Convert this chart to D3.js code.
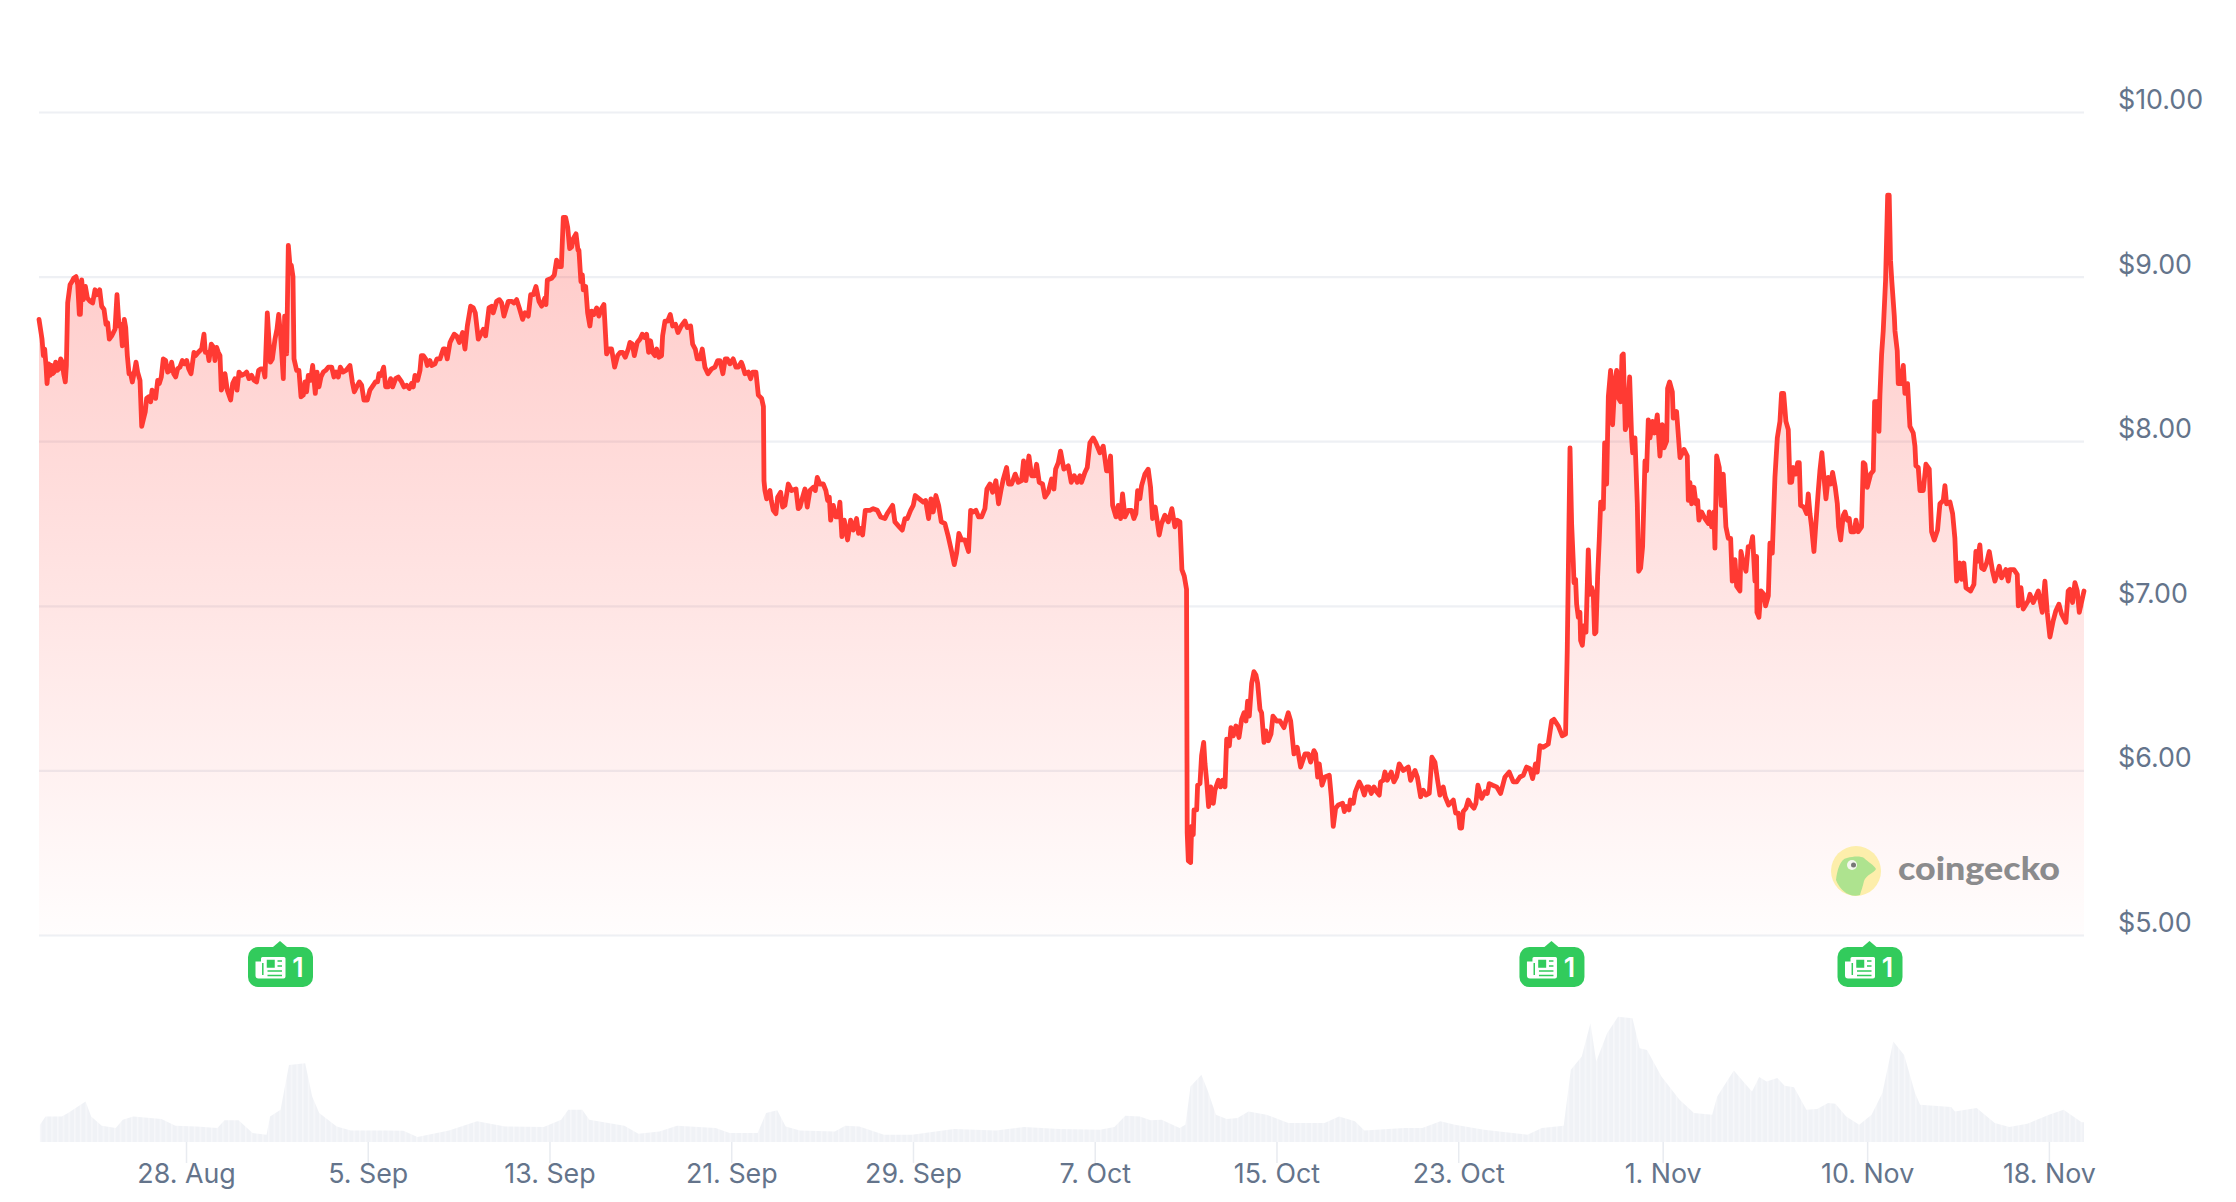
<!DOCTYPE html>
<html>
<head>
<meta charset="utf-8">
<style>
  html, body { margin: 0; padding: 0; background: #fff; }
  text { font-family: Inter, "Noto Sans", sans-serif; }
</style>
<script src="https://cdn.jsdelivr.net/npm/d3@7"></script>
</head>
<body>
<div id="chart"></div>
<script>
// --- DATA ---
const startDate = '2023-08-21T12:42:00Z';

// hours since startDate
const priceHours = [
0,3.2,4.6,6,7.4,8.5,10.2,11.6,13,14.4,15.9,17.6,19.4,21.1,22.9,24.7,26.1,27.8,28.9,30.3,32.8,34.9,36.6,39.1,40.9,42.6,43.7,45.1,46.8,49,51.1,53.9,56.7,59.2,60.9,64.1,66.2,68.7,70.8,72.5,74.3,76.8,80.3,82.4,84.5,86.3,88,90.1,91.6,93.3,95.1,96.8,98.6,100.7,102.5,104.2,106.7,108.5,110.2,112.3,113.7,115.8,118,119.4,121.5,123.2,125.4,127.1,129.2,131.3,133.8,135.9,138.4,140.1,142.3,144.4,146.5,148.9,151.4,153.5,156,158.1,160.6,163.7,165.5,168.3,171.8,174.3,175.7,178.2,179.6,182,184.5,185.9,187.7,189.4,191.2,192.6,194.7,196.5,198.9,202.5,204.6,207,209.2,211.3,214.1,217.6,219.4,221.8,224.6,227.1,229.9,232,234.2,237,238.7,241.2,244.4,246.5,249.3,251.4,253.2,255.3,258.1,259.5,261.6,263.4,265.1,266.5,268.3,269.4,272.2,274.6,276.8,279.2,281,282.7,284.5,287,289.1,291.9,293.7,295.8,297.9,300.4,302.8,305.6,309.2,311.6,314.1,316.2,318.3,321.1,324.3,328.5,331,333.1,335.6,338.4,340.8,343.3,346.8,349.6,353.2,355.3,357.7,359.2,361.3,364.1,366.2,369,371.5,373.6,376.8,379.6,383.1,385.6,388.4,391.2,393.6,395.4,397.2,400,402.5,403.9,406,408.4,410.2,413,414.8,418.3,420.4,423.6,
427.1,428.9,431.3,434.2,435.9,438.7,441.2,444,447.5,450,452.5,456,458.8,460.9,464.1,467.6,469.4,471.8,475.4,478.2,479.9,483.5,486.3,488.7,491.2,495.8,499.3,501.8,504.6,507.4,510.9,513.4,516.9,519.4,522.2,525,528.2,531,534.5,535.6,537,541.6,544.4,546.8,549.6,551.8,553.9,556.3,558.5,560.6,562.7,564.4,567.3,569.4,570.4,572.5,574,575,577.5,579.6,582,583.8,586.3,589.1,591.5,593.7,596.8,599.6,602.5,604.9,608.1,611.3,614.1,616.5,619.4,622.5,624.3,626.8,628.9,632,634.9,637.3,639.8,641.9,644,646.1,648.2,650.7,652.5,654.9,657.7,658.8,661.3,664.1,666.9,669.4,672.5,675,678.5,682.4,684.9,688.4,690.5,693.3,695.4,698.2,700.7,703.5,706.7,710.6,714.1,716.9,719.4,722.5,725,727.1,729.9,733.4,736.3,738.7,741.9,743.3,745.8,749.3,751.8,753.9,757.4,759.9,763.4,765.3,
765.9,766.9,768.7,772.2,773.6,775.7,778.5,780.3,783.5,785.6,788,791.6,795.1,799.7,802.1,803.9,806.7,809.2,811.6,814.4,818,820.1,822.2,825,828.5,831.3,833.1,834.9,836.3,839.1,841.9,844.4,846.1,848.2,850.7,854.2,857.4,860.2,863.7,865.8,868,870.1,872.9,877.8,881.3,885.6,889.1,893.7,896.1,901.8,904.2,908.8,912,914.8,917.3,920.8,923.6,925.7,929.9,934.2,936.6,939.8,942.3,944.7,947.5,950.4,953.2,957,960.6,964.1,966.9,969.4,971.8,974.7,978.2,982,984.2,987,989.8,992.6,995.8,999.3,1001.4,1004.6,1007.4,1010.9,1013.7,1016.2,1018.7,1022.2,1024.3,1027.5,1031.3,1034.5,1038,1040.1,1042.6,1045.8,1048.6,1051.8,1053.9,1056.7,1060.2,1062.7,1066.2,1069.7,1072.2,1074,1076.8,1079.2,1082.7,1087.3,1090.5,1093.7,1096.8,1099.6,1101.4,1104.9,1107.4,1110.2,1113.7,1116.5,1120.8,1124.3,1127.8,1129.9,1132,1134.2,1137.7,1140.1,1142.6,1144.7,1147.2,1150.7,1154.2,1156.7,1158.8,1160.6,1163,1164.8,1168.3,1171.8,1174.3,1176.4,1179.2,1183.4,1185.9,1189.4,1193,1196.8,1200,1202.5,1205.3,1207.4,1209.9,1212.3,
1213,1214.2,1216.6,1217.7,1219.4,1220.2,1223,1224,1226.5,1228.2,1230.4,1231.8,1233.5,1235.6,1237.8,1240.6,1242.3,1245.9,1248.3,1250.4,1252.9,1254.7,1257.5,1259.2,1261.7,1264.5,1267.7,1270.5,1273,1275.1,1276.8,1278.6,1281.1,1283.5,1285.6,1287.4,1289.9,1291.6,1294.1,1296.2,1298.7,1301.5,1303.6,1307.5,1311,1315.2,1319.8,1322.3,1325.8,1329.3,1332.8,1337.4,1340.9,1343.4,1346.9,1348.7,1350.8,1352.5,1355.4,1358.5,1363.1,1365.2,1367.3,1369.8,1372.6,1377.2,1379,1381.4,1383.9,1385.3,1388.5,1390.6,1394.8,1397.3,1400.1,1402.5,1405,1407.5,1410.3,1413.1,1415.9,1417.3,1420.1,1421.9,1424.4,1428.6,1431.4,1434.2,1437,1441.3,1446.6,1449,1453.6,1456.1,1459.6,1462.4,1465.2,1468.7,1471.5,1474.7,1477.5,1480,1483.5,1485.6,1489.2,1494.1,1496.6,1499.4,1501.1,1502.9,1504.6,1507.5,1509.9,1512.8,1515.9,1518,1520.1,1524,1527.5,1530,1532.1,1535.6,1539.9,1544.1,1548.7,1553.2,1557.5,1561,1564.5,1568,1571.5,1575.1,1577.9,1581,1582.8,1585.6,1589.2,1594.4,1598,1600.4,1605,1609.2,1612.7,
1614.5,1617.4,1619.1,1620.9,1621.6,1623.3,1624.4,1626.2,1627.9,1628.6,1630.4,1632.2,1634.3,1636.7,1638.5,1640.3,1642,1643.4,1644.8,1646.6,1648.3,1649.8,1652.6,1654,1656.1,1657.9,1660.3,1662.4,1664.9,1666.7,1668.8,1670.9,1672.3,1673.7,1675.8,1677.6,1680.4,1682.5,1683.6,1686,1688.5,1689.9,1692,1694.1,1696.6,1698.3,1700.1,1701.9,1704.7,1706.8,1709.6,1712.4,1714.9,1716.7,1719.5,1720.5,1722.6,1725.5,1726.5,1730,1733.6,1737.8,1741.3,1742.4,1744.1,1745.9,1748.3,1750.5,1752.2,1753.6,1756.4,1760,1763.5,1764.5,1767,1769.5,1770.5,1772.3,1775.1,1777.2,1779.3,1782.1,1784.6,1787.1,1788.8,1791.7,1793.4,1796.9,1798,1800.5,1803.3,1805.7,1808.2,1810.3,1812.8,1814.5,1814.9,1817,1819.1,1822.3,1824,1826.9,1828.6,1831.1,1833.9,1836.4,1839.2,1840.9,1843.1,1845.5,1848,1849.7,1851.5,1853.3,1855.7,1857.9,1859.6,1861,1864.5,1867.4,1869.1,1870.9,1872.6,1875.1,1876.9,1879.7,1881.4,1883.5,1885.7,1887.8,1890.2,1892.7,1894.8,1897.6,1899.8,1901.2,1903.3,1906.1,1907.9,1910.3,1912.4,1914.2,1917.7,1919.5,1921.9,1925.4,1927.2,1929,1931.4,1935,1937.8,1939.2,1942,1943.8,1944.8,1946.6,
1948.3,1950.8,1953,1954.6,1956,1957.4,1960,1960.7,1963.1,1964.2,1966.6,1969.5,1971.2,1974,1976.5,1980,1981.8,1982.8,1985.3,1987.1,1990.6,1993.4,1996.9,1999.4,2002.2,2005.7,2008.2,2011.7,2013.5,2015.2,2018.8,2021.6,2024,2025.8,2029.3,2031.1,2033.5,2035.7,2040.6,2044.1,2046.2,2047.6,2050.4,2052.2,2054.7,2057.5,2060.3,2063.8,2066.3,2070.9,2073.3,2077.9,2080.4,2082.1,2086.4,2089.9,2091,2093.8,2096.2,2101.5,2103.3,2106.8,2112.1,2116.3,2119.1,2121.6,2124.4,2127.9,2130.7,2133.9,2136.7,2141.3,2143.7,2145.5,2148.3,2150.8,2153.3,2155.4,2160.4
];

const prices = [
8.74,8.62,8.52,8.56,8.46,8.35,8.47,8.4,8.46,8.41,8.42,8.48,8.43,8.44,8.5,8.48,8.41,8.36,8.46,8.84,8.95,8.97,8.99,9,8.95,8.77,8.77,8.98,8.86,8.94,8.87,8.85,8.84,8.92,8.89,8.92,8.82,8.8,8.71,8.72,8.62,8.64,8.68,8.89,8.7,8.71,8.58,8.74,8.69,8.52,8.41,8.41,8.36,8.42,8.48,8.42,8.37,8.09,8.13,8.18,8.26,8.27,8.24,8.31,8.29,8.26,8.37,8.35,8.39,8.5,8.49,8.42,8.43,8.48,8.41,8.39,8.44,8.45,8.49,8.47,8.49,8.44,8.41,8.54,8.52,8.54,8.56,8.65,8.54,8.54,8.49,8.59,8.57,8.49,8.57,8.54,8.52,8.31,8.34,8.41,8.31,8.25,8.35,8.38,8.31,8.42,8.4,8.41,8.42,8.38,8.4,8.37,8.36,8.43,8.44,8.44,8.39,8.78,8.48,8.5,8.62,8.68,8.77,8.64,8.38,8.76,8.53,9.19,9.07,9.07,9,8.5,8.43,8.43,8.27,8.28,8.36,8.3,8.4,8.37,8.46,8.29,8.42,8.33,8.39,8.42,8.43,8.45,8.45,8.39,8.42,8.39,8.45,8.42,8.43,8.46,8.36,8.3,8.33,8.36,8.34,8.25,8.25,8.31,8.34,8.36,8.36,8.41,8.4,8.45,8.33,8.33,8.38,8.33,8.38,8.39,8.36,8.33,8.34,8.32,8.35,8.33,8.4,8.37,8.43,8.52,8.52,8.5,8.46,8.49,8.46,8.47,8.5,8.5,
8.56,8.56,8.5,8.6,8.62,8.65,8.64,8.6,8.66,8.56,8.7,8.82,8.81,8.78,8.62,8.66,8.68,8.64,8.81,8.82,8.78,8.85,8.86,8.84,8.76,8.85,8.85,8.84,8.86,8.81,8.74,8.78,8.76,8.89,8.89,8.94,8.85,8.82,8.87,8.83,8.98,8.99,9.01,9.1,9.06,9.06,9.36,9.36,9.3,9.17,9.18,9.23,9.26,9.16,9.16,8.97,9.01,8.92,8.94,8.78,8.7,8.79,8.77,8.81,8.76,8.8,8.83,8.53,8.56,8.56,8.45,8.52,8.54,8.54,8.51,8.56,8.6,8.59,8.52,8.6,8.62,8.65,8.63,8.65,8.54,8.61,8.54,8.52,8.56,8.51,8.52,8.64,8.73,8.73,8.77,8.7,8.71,8.66,8.7,8.73,8.69,8.7,8.59,8.56,8.5,8.5,8.56,8.45,8.41,8.44,8.45,8.49,8.49,8.41,8.5,8.5,8.47,8.5,8.45,8.45,8.48,8.46,8.41,8.42,8.38,8.42,8.42,8.28,8.26,8.21,
7.76,7.7,7.65,7.7,7.64,7.58,7.56,7.66,7.69,7.6,7.61,7.74,7.7,7.71,7.59,7.6,7.66,7.71,7.6,7.7,7.72,7.7,7.78,7.74,7.74,7.7,7.64,7.66,7.52,7.61,7.54,7.54,7.63,7.42,7.52,7.4,7.52,7.46,7.53,7.44,7.47,7.43,7.58,7.58,7.59,7.58,7.54,7.53,7.56,7.61,7.51,7.48,7.46,7.53,7.53,7.58,7.61,7.67,7.65,7.63,7.64,7.53,7.65,7.57,7.67,7.61,7.51,7.5,7.42,7.33,7.25,7.32,7.44,7.4,7.4,7.33,7.58,7.57,7.58,7.54,7.54,7.59,7.71,7.74,7.69,7.76,7.62,7.7,7.77,7.84,7.74,7.74,7.8,7.75,7.76,7.88,7.76,7.91,7.79,7.79,7.86,7.75,7.74,7.66,7.69,7.77,7.71,7.83,7.87,7.94,7.83,7.85,7.75,7.79,7.75,7.79,7.75,7.81,7.84,7.99,8.02,7.99,7.93,7.97,7.82,7.82,7.91,7.61,7.54,7.61,7.53,7.68,7.54,7.58,7.58,7.53,7.56,7.7,7.65,7.73,7.8,7.83,7.72,7.53,7.6,7.43,7.5,7.55,7.51,7.59,7.48,7.52,7.51,7.22,7.18,7.1,
5.62,5.45,5.44,5.66,5.61,5.76,5.76,5.91,5.92,6.09,6.17,6.04,5.94,5.78,5.9,5.8,5.88,5.94,5.9,5.94,5.9,6.19,6.15,6.26,6.21,6.27,6.2,6.31,6.35,6.3,6.42,6.33,6.53,6.6,6.58,6.53,6.37,6.35,6.17,6.24,6.18,6.22,6.33,6.3,6.3,6.26,6.35,6.3,6.1,6.14,6.02,6.1,6.1,6.05,6.12,6.1,5.96,6.04,5.91,5.96,5.97,5.84,5.66,5.77,5.79,5.8,5.75,5.78,5.76,5.82,5.8,5.87,5.93,5.9,5.85,5.9,5.9,5.86,5.9,5.87,5.85,5.93,5.94,5.99,5.94,5.99,5.93,5.96,6.04,6,6.02,5.94,6,5.96,5.84,5.88,5.85,5.86,6.08,6.05,5.94,5.85,5.9,5.84,5.79,5.82,5.74,5.74,5.65,5.65,5.75,5.77,5.82,5.79,5.77,5.8,5.91,5.83,5.87,5.86,5.92,5.91,5.9,5.86,5.96,5.99,5.93,5.93,5.96,5.97,6.02,6.01,5.95,6.04,5.99,6.15,6.14,6.16,6.3,6.31,6.27,6.21,6.22,
6.73,7.96,7.5,7.26,7.14,7.16,7.01,6.93,6.96,6.79,6.76,6.88,6.84,7.34,7.07,7.11,7.07,6.83,6.84,7.18,7.4,7.63,7.59,7.99,7.74,8.27,8.43,8.1,8.37,8.43,8.26,8.24,8.52,8.53,8.07,8.1,8.39,8.02,7.93,8.02,7.62,7.21,7.23,7.36,7.88,7.82,8.13,8.02,8.12,8.05,8.16,7.91,8.1,7.96,8,8.32,8.36,8.3,8.14,8.18,7.9,7.95,7.91,7.64,7.75,7.62,7.72,7.62,7.64,7.52,7.57,7.53,7.5,7.57,7.48,7.57,7.35,7.91,7.84,7.61,7.8,7.48,7.41,7.41,7.15,7.28,7.12,7.09,7.33,7.26,7.21,7.36,7.36,7.42,7.15,7.3,6.96,6.93,7.09,7.07,7,7.06,7.38,7.32,7.78,8.02,8.12,8.29,8.29,8.12,8.07,7.75,7.75,7.84,7.8,7.87,7.87,7.61,7.6,7.56,7.68,7.56,7.48,7.33,7.48,7.7,7.82,7.93,7.78,7.65,7.78,7.74,7.81,7.72,7.62,7.48,7.4,7.55,7.57,7.52,7.53,7.45,7.45,7.52,7.45,7.48,7.87,7.86,7.72,7.8,7.82,8.24,8.24,8.06,8.28,8.53,
8.67,8.98,9.495,9.495,9.1,8.97,8.76,8.67,8.55,8.35,8.35,8.46,8.29,8.35,8.09,8.05,7.97,7.85,7.84,7.7,7.7,7.86,7.83,7.45,7.4,7.46,7.62,7.64,7.73,7.62,7.63,7.56,7.41,7.15,7.26,7.16,7.26,7.11,7.09,7.13,7.33,7.27,7.37,7.23,7.22,7.26,7.33,7.21,7.15,7.24,7.17,7.22,7.15,7.22,7.22,7.19,7,7.11,6.98,7.03,7.07,7.02,7.09,6.96,7.15,6.96,6.81,6.91,6.97,7.01,6.95,6.9,7.09,7.1,7.02,7.14,7.09,6.96,7.09
];

const volumeHours = [1,7,24,30.7,49.2,55.1,66.3,81.1,88.5,99.6,129.3,144.1,166.3,188.5,196,210.8,225.6,240.4,244.1,255.2,264.1,281.2,288.6,296,314.5,329.4,366.4,384.9,399.8,433.1,462.8,492.4,533.2,551.7,559.1,573.9,581.3,618.4,633.2,655.4,674,714.7,729.6,759.2,768.1,779.9,788.8,803.7,840.7,851.8,866.6,892.6,922.2,966.7,1011.2,1040.8,1077.9,1120.8,1136.1,1147.6,1162.9,1174.4,1185.9,1205,1211.1,1216.5,1228,1235.6,1243.3,1254.7,1266.2,1277.7,1296.8,1319.8,1358.1,1373.4,1390.2,1400.2,1442.3,1461.4,1480.5,1495.8,1526.5,1572.4,1587.7,1610.7,1618.3,1629.8,1639,1645.1,1656.6,1668.1,1683.4,1691,1698.7,1714,1733.1,1748.4,1767.6,1772.9,1790.5,1802,1809.7,1817.3,1825,1836.4,1844.1,1854,1867.1,1878.5,1890,1897.7,1909.2,1922.9,1936,1947.4,1958.9,1970.4,1981.9,1987.2,2020.1,2024,2047,2066.1,2081.4,2100.5,2123.5,2138.8,2157.9,2160.4];

// relative volume, tallest bar = 100
const volumes = [13.7,20.3,20.3,23,32.2,20.3,12.9,11.1,17.7,20.3,18.2,12.9,12.4,11.1,17.2,17.2,7.1,5.8,20.3,25.6,61.2,62.5,36.1,23,12.4,9.2,9.2,9,4,9.2,16.4,12.4,11.9,17.7,25.6,25.6,17.7,12.9,6.6,8.4,12.9,11.1,7.1,7.1,23,25.1,12.4,9.2,8.4,12.9,12.4,5.8,5.8,10.3,9.2,11.9,10.3,9.8,11.9,20.8,20.3,17.2,17.7,11.1,13.7,44.1,53.3,38.8,21.6,18.2,19,24.3,21.6,15,15,20.3,16.4,9.2,11.1,11.1,16.4,13.7,9.8,5.8,11.1,12.9,57.3,67.8,94.2,63.9,86.3,99.5,98.2,74.4,73.1,52,33.5,23,21.6,36.1,56.7,46.7,40.1,51.5,48,50.7,44.6,43.5,25.6,26.1,30.9,30.3,20.3,13.7,21.6,38.8,79.7,69.1,38.8,29.6,27.7,24.3,26.9,15,11.9,14.5,21.6,25.6,15.6,15.6];

const yTicks = [5, 6, 7, 8, 9, 10];
const xTicks = ['2023-08-28','2023-09-05','2023-09-13','2023-09-21','2023-09-29','2023-10-07','2023-10-15','2023-10-23','2023-11-01','2023-11-10','2023-11-18'];
const newsHours = [254.6, 1597.8, 1933.8];
const newsCounts = ['1', '1', '1'];

// --- SCALES ---
const width = 2236, height = 1202;
const t0 = Date.parse(startDate);
const toDate = h => new Date(t0 + h * 3600e3);

const x = d3.scaleUtc()
  .domain([toDate(0), toDate(d3.max(priceHours))])
  .range([39, 2084]);

const y = d3.scaleLinear().domain([5, 10]).range([935, 112]);

const yVol = d3.scaleLinear().domain([0, 100]).range([1142, 1016]);

const svg = d3.select('#chart').append('svg')
  .attr('width', width)
  .attr('height', height)
  .style('display', 'block');

// --- GRADIENT + VOLUME STRIPES ---
const defs = svg.append('defs');
const grad = defs.append('linearGradient')
  .attr('id', 'areaFill')
  .attr('gradientUnits', 'userSpaceOnUse')
  .attr('x1', 0).attr('x2', 0)
  .attr('y1', y(10)).attr('y2', y(5));
grad.append('stop').attr('offset', 0).attr('stop-color', '#ff3a33').attr('stop-opacity', 0.31);
grad.append('stop').attr('offset', 1).attr('stop-color', '#ff3a33').attr('stop-opacity', 0.01);

const stripes = defs.append('pattern')
  .attr('id', 'volStripes')
  .attr('patternUnits', 'userSpaceOnUse')
  .attr('width', 5.7).attr('height', 10);
stripes.append('rect').attr('width', 5.7).attr('height', 10).attr('fill', '#f0f2f6');
stripes.append('rect').attr('width', 1.6).attr('height', 10).attr('fill', '#f6f7fa');

// --- Y AXIS + GRID ---
const yAxis = svg.append('g')
  .attr('transform', 'translate(2084,0)')
  .call(d3.axisRight(y).tickValues(yTicks).tickSize(0).tickFormat(d3.format('$.2f')));
yAxis.select('.domain').remove();
yAxis.selectAll('text')
  .attr('x', 34)
  .attr('dy', -3.5)
  .attr('fill', '#64748b')
  .style('font-size', '26.8px')
  .style('font-family', 'Inter');

svg.append('g').selectAll('line')
  .data(yTicks)
  .enter().append('line')
    .attr('x1', 39).attr('x2', 2084)
    .attr('y1', d => y(d) + 0.5).attr('y2', d => y(d) + 0.5)
    .attr('stroke', '#eef0f4')
    .attr('stroke-width', 2.2);

// --- PRICE AREA + LINE ---
const priceData = priceHours.map((h, i) => ({ date: toDate(h), price: prices[i] }));

const area = d3.area()
  .x(d => x(d.date))
  .y0(y(5))
  .y1(d => y(d.price));

const line = d3.line()
  .x(d => x(d.date))
  .y(d => y(d.price));

svg.append('path')
  .datum(priceData)
  .attr('d', area)
  .attr('fill', 'url(#areaFill)');

// --- LOGO ---
const logo = svg.append('g').attr('transform', 'translate(1856,871)');
logo.append('circle').attr('r', 25).attr('fill', '#fdeeab');
logo.append('path')
  .attr('d', 'M-20,9 C-19,0 -16,-12 -9,-13 C-2,-15 5,-15 8,-13 C12,-9 18,-6 20,-2 C18,2 10,4 8,10 C7,15 5,20 4,24 C-6,27 -16,20 -20,9 Z')
  .attr('fill', '#aee38f');
logo.append('circle').attr('cx', -4).attr('cy', -6).attr('r', 5).attr('fill', '#f4f7ee');
logo.append('circle').attr('cx', -2.5).attr('cy', -6).attr('r', 2.5).attr('fill', '#777');
svg.append('text')
  .attr('x', 1898).attr('y', 880)
  .attr('textLength', 162)
  .attr('lengthAdjust', 'spacingAndGlyphs')
  .attr('fill', '#8b8b8d')
  .style('font-family', 'Lato')
  .style('font-weight', 900)
  .style('font-size', '33px')
  .text('coingecko');

svg.append('path')
  .datum(priceData)
  .attr('d', line)
  .attr('fill', 'none')
  .attr('stroke', '#ff3a33')
  .attr('stroke-width', 4.8)
  .attr('stroke-linejoin', 'round')
  .attr('stroke-linecap', 'round');

// --- VOLUME ---
const volData = volumeHours.map((h, i) => ({ date: toDate(h), vol: volumes[i] }));

svg.append('path')
  .datum(volData)
  .attr('d', d3.area().x(d => x(d.date)).y0(yVol(0)).y1(d => yVol(d.vol)))
  .attr('fill', 'url(#volStripes)');

// --- X AXIS ---
const xAxis = svg.append('g')
  .attr('transform', 'translate(0,1142)')
  .call(d3.axisBottom(x)
    .tickValues(xTicks.map(d => new Date(d + 'T00:00:00Z')))
    .tickSize(21)
    .tickPadding(0.5)
    .tickFormat(d3.utcFormat('%-d. %b')));
xAxis.select('.domain').remove();
xAxis.selectAll('line').attr('stroke', '#e8ebf0').attr('stroke-width', 1.5);
xAxis.selectAll('text')
  .attr('fill', '#64748b')
  .style('font-size', '26.8px')
  .style('font-family', 'Inter');

// --- NEWS FLAGS ---
const flags = svg.append('g').selectAll('g')
  .data(newsHours)
  .enter().append('g')
    .attr('transform', d => `translate(${x(toDate(d))},947)`);

flags.append('path')
  .attr('d', 'M-7,0 L0,-6 L7,0 Z')
  .attr('fill', '#32cb5c');
flags.append('rect')
  .attr('x', -32).attr('y', 0)
  .attr('width', 65).attr('height', 40)
  .attr('rx', 10)
  .attr('fill', '#32cb5c');

// newspaper icon
flags.append('path')
  .attr('d', 'M-16,10 h20 a1.5,1.5 0 0 1 1.5,1.5 v18 a2,2 0 0 1 -2,2 h-25 a3,3 0 0 1 -3,-3 v-14 h5.5 v-3 a1.5,1.5 0 0 1 1.5,-1.5 Z')
  .attr('fill', '#fff');
flags.append('path')
  .attr('d', 'M-17.2,16 v12 M-12.5,13.5 h6.5 v6.5 h-6.5 Z M-2.5,14 h4.5 M-2.5,19 h4.5 M-12.5,24 h14.5 M-12.5,28.5 h14.5')
  .attr('fill', '#32cb5c')
  .attr('stroke', '#32cb5c')
  .attr('stroke-width', 1.5);
flags.append('text')
  .data(newsCounts)
  .attr('x', 18)
  .attr('y', 29.5)
  .attr('text-anchor', 'middle')
  .attr('fill', '#fff')
  .style('font-size', '27px')
  .style('font-weight', 600)
  .text(d => d);
</script>
</body>
</html>
